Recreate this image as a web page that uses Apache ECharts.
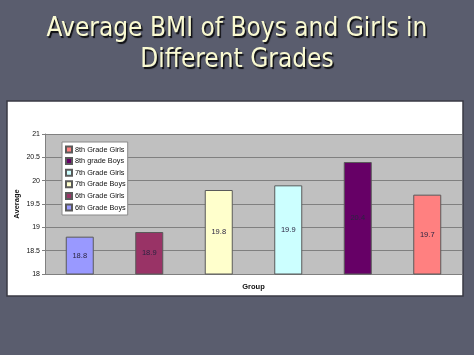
<!DOCTYPE html>
<html>
<head>
<meta charset="utf-8">
<script src="https://cdn.jsdelivr.net/npm/echarts@6/dist/echarts.min.js"></script>
<style>
html,body{margin:0;padding:0;background:#5a5d6e;}
#c{width:474px;height:355px;}
</style>
</head>
<body>
<div id="c"></div>
<script>
var titleLines = ['Average BMI of Boys and Girls in', 'Different Grades'];
var groups = ['6th Grade Boys', '6th Grade Girls', '7th Grade Boys', '7th Grade Girls', '8th grade Boys', '8th Grade Girls'];
var values = [18.8, 18.9, 19.8, 19.9, 20.4, 19.7];
var colors = ['#9999ff', '#993366', '#ffffcc', '#ccffff', '#660066', '#ff8080'];
var yTicks = [18, 18.5, 19, 19.5, 20, 20.5, 21];
var xName = 'Group';
var yName = 'Average';

var chart = echarts.init(document.getElementById('c'), null, {renderer: 'canvas'});

var series = groups.map(function (g, i) {
  return {
    name: g,
    type: 'bar',
    barWidth: 28,
    barGap: '-100%',
    data: values.map(function (v, j) { return j === i ? v : null; }),
    itemStyle: {color: colors[i], borderColor: '#5a5a5a', borderWidth: 1},
    label: {
      show: true, position: 'inside', fontSize: 7.5,
      fontFamily: 'Liberation Sans, Arial, sans-serif', color: '#2a2440'
    }
  };
});

chart.setOption({
  backgroundColor: '#5a5d6e',
  animation: false,
  graphic: [{
    type: 'rect', z: -10,
    shape: {x: 7, y: 101, width: 456, height: 195},
    style: {fill: '#ffffff', stroke: '#3a3a44', lineWidth: 1.5}
  }],
  title: {
    text: titleLines.join('\n'),
    left: 'center', top: 9,
    textStyle: {
      color: '#fafad2', fontSize: 26, fontWeight: 'normal',
      fontFamily: 'DejaVu Sans Condensed, DejaVu Sans, sans-serif',
      lineHeight: 31,
      textShadowColor: 'rgba(0,0,0,0.85)', textShadowBlur: 1,
      textShadowOffsetX: 1.5, textShadowOffsetY: 1.5
    }
  },
  legend: {
    data: groups.slice().reverse(),
    orient: 'vertical', left: 62, top: 142,
    itemWidth: 6, itemHeight: 6, itemGap: 2.6,
    padding: [3, 2, 3, 3],
    backgroundColor: '#ffffff', borderColor: '#8a8a8a', borderWidth: 1,
    textStyle: {fontSize: 7.3, lineHeight: 9, color: '#111', fontFamily: 'Liberation Sans, Arial, sans-serif', padding: [0, 0, 0, -2]},
    icon: 'rect'
  },
  grid: {
    left: 45, top: 134, right: 12, bottom: 81,
    show: true, backgroundColor: '#c0c0c0', borderWidth: 0
  },
  xAxis: {
    type: 'category', data: groups,
    name: xName, nameLocation: 'middle', nameGap: 9, nameMoveOverlap: false,
    nameTextStyle: {fontSize: 7.5, fontWeight: 'bold', color: '#111', fontFamily: 'Liberation Sans, Arial, sans-serif'},
    axisLabel: {show: false}, axisTick: {show: false},
    axisLine: {lineStyle: {color: '#808080'}}
  },
  yAxis: {
    type: 'value', min: yTicks[0], max: yTicks[yTicks.length - 1], interval: 0.5,
    name: yName, nameLocation: 'middle', nameGap: 24, nameMoveOverlap: false,
    nameTextStyle: {fontSize: 7.5, fontWeight: 'bold', color: '#111', fontFamily: 'Liberation Sans, Arial, sans-serif'},
    axisLine: {show: true, lineStyle: {color: '#808080'}},
    axisTick: {show: true, length: 3, lineStyle: {color: '#808080'}},
    axisLabel: {fontSize: 7, color: '#111', margin: 5, fontFamily: 'Liberation Sans, Arial, sans-serif'},
    splitLine: {lineStyle: {color: '#808080', width: 1}}
  },
  series: series
});
</script>
</body>
</html>
